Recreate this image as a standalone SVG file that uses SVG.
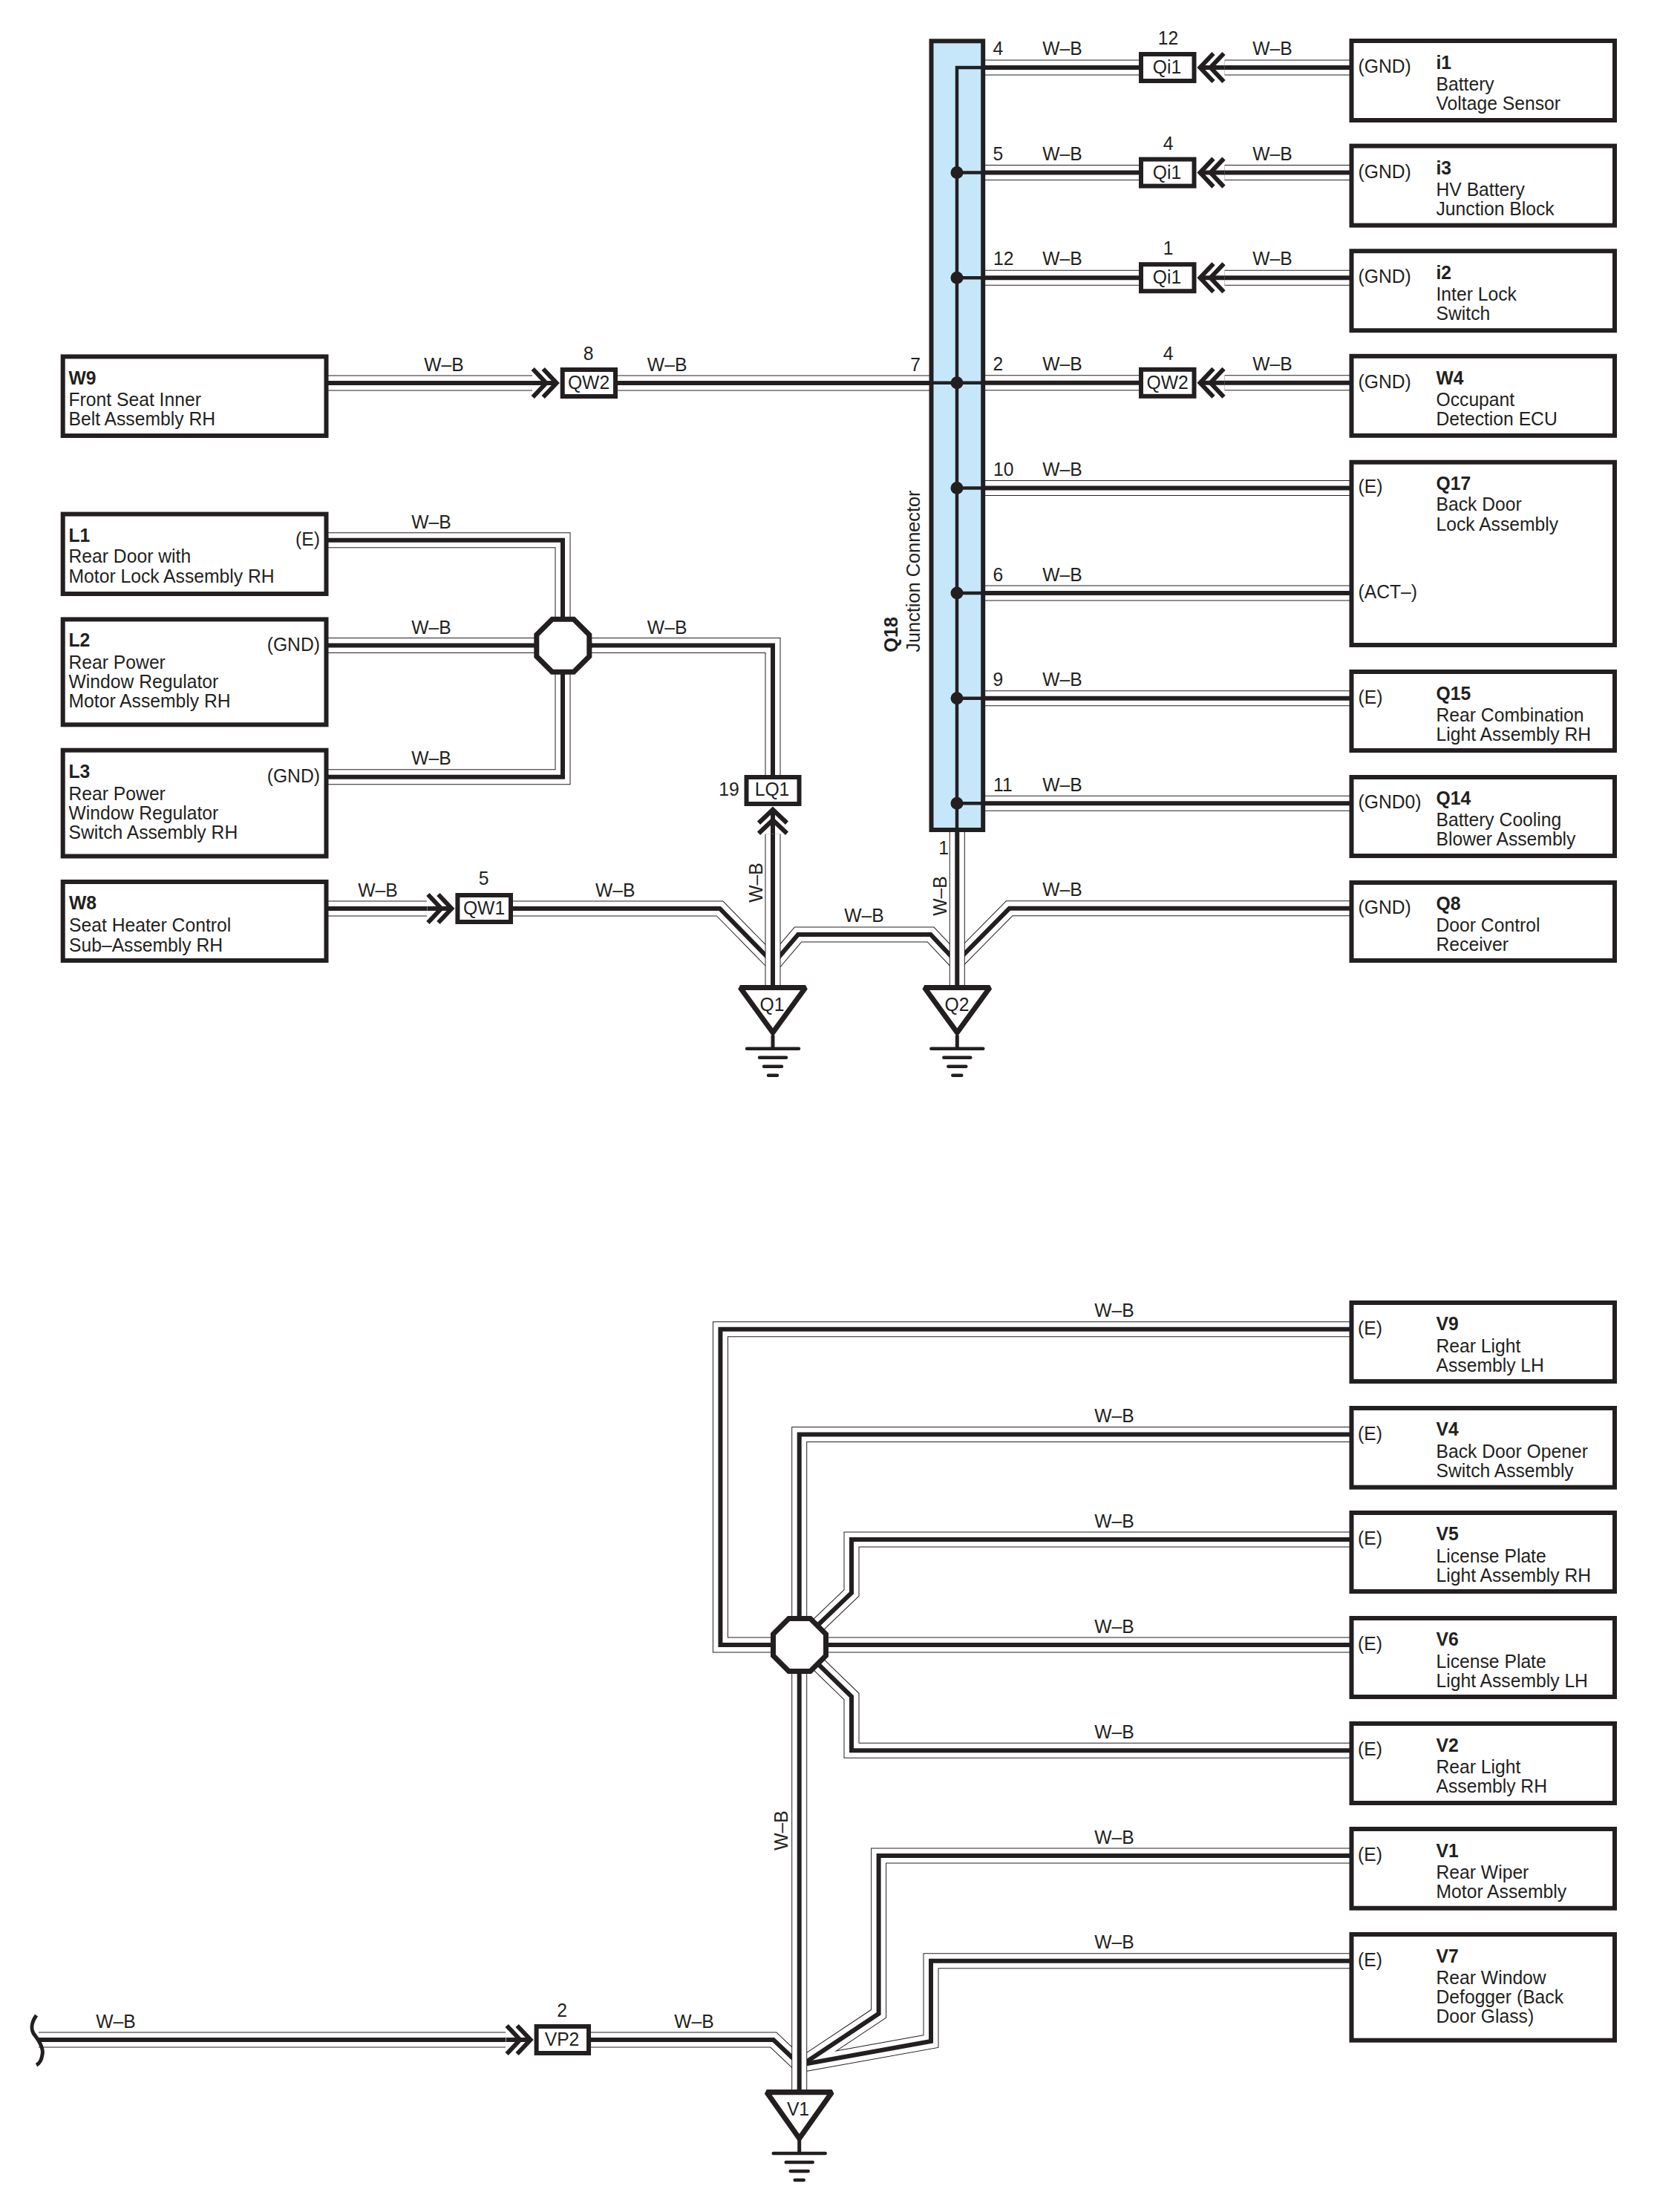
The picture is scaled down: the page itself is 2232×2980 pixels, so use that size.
<svg xmlns="http://www.w3.org/2000/svg" width="2232" height="2980" viewBox="0 0 2232 2980">
<style>
text{font-family:"Liberation Sans",Arial,sans-serif;font-size:26px;fill:#231f20}
.b{font-weight:bold}
.m{text-anchor:middle}
.e{text-anchor:end}
.box{fill:#fff;stroke:#231f20;stroke-width:6}
.cn{fill:#fff;stroke:#231f20;stroke-width:6}
.oct{fill:#fff;stroke:#231f20;stroke-width:7}
.tri{fill:#fff;stroke:#231f20;stroke-width:7;stroke-miterlimit:2}
.k{fill:none;stroke:#231f20;stroke-width:6}
.dot{fill:#231f20}
</style>
<defs>
<g id="wa" fill="none">
<path d="M442,516H717"/>
<path d="M832,516H1252"/>
<path d="M442,727.7H758V870"/>
<path d="M442,1046.8H758V870"/>
<path d="M442,869.6H798"/>
<path d="M758,869.6H1041V1047"/>
<path d="M442,1224H575"/>
<path d="M691,1224H969.6L1041,1297"/>
<path d="M1041,1299L1075,1259H1253.6L1289.3,1297"/>
<path d="M1822,1223.8H1359.6L1289.3,1295"/>
<path d="M1327,91H1537M1649.5,91H1822"/>
<path d="M1327,232.6H1537M1649.5,232.6H1822"/>
<path d="M1327,374.2H1537M1649.5,374.2H1822"/>
<path d="M1327,515.8H1537M1649.5,515.8H1822"/>
<path d="M1327,657.4H1822"/>
<path d="M1327,799H1822"/>
<path d="M1327,940.7H1822"/>
<path d="M1327,1082.2H1822"/>
<path d="M1822,1790.7H970.4V2216H1040"/>
<path d="M1822,2074H1147V2146L1077,2213"/>
<path d="M1077,2216H1822"/>
<path d="M1822,2358.3H1147V2285.5L1077,2217.5"/>
<path d="M1822,2500H1183.6V2712.8L1076.7,2784"/>
<path d="M1822,2641.7H1254V2750L1076.7,2782"/>
<path d="M796,2748H1041.8L1076.7,2781"/>
<path d="M52,2748H681"/>
</g>
<g id="wb" fill="none">
<path d="M1041,1123.7V1328"/>
<path d="M1289.3,1118V1328"/>
<path d="M1822,1932.5H1076.7V2216"/>
<path d="M1076.7,2216V2816"/>
</g>
<g id="chev" fill="none" stroke="#231f20" stroke-width="6">
<path d="M-38,0H-6"/>
<path d="M-23,-19L-5,0L-23,19"/>
<path d="M-37,-19L-19,0L-37,19"/>
</g>
<g id="gnd" fill="none" stroke="#231f20" stroke-linecap="round">
<path d="M0,-18V0" stroke-width="5" stroke-linecap="butt"/>
<path d="M-35,0H35M-18,12H18M-12,24H12M-6,36H6" stroke-width="4.5"/>
</g>
<polygon id="trishape" class="tri" points="-44,3.5 44,3.5 0,64"/>
<polygon id="octshape" class="oct" points="-14.5,-35.5 14.5,-35.5 35.5,-14.5 35.5,14.5 14.5,35.5 -14.5,35.5 -35.5,14.5 -35.5,-14.5"/>
</defs>
<rect width="2232" height="2980" fill="#fff"/>
<g id="connectors">
<use href="#wa" stroke="#231f20" stroke-width="21"/>
<use href="#wa" stroke="#fff" stroke-width="19"/>
<use href="#wa" stroke="#231f20" stroke-width="6"/>
<use href="#wb" stroke="#231f20" stroke-width="21"/>
<use href="#wb" stroke="#fff" stroke-width="19"/>
<use href="#wb" stroke="#231f20" stroke-width="6"/>
<path id="cable-end" d="M49,2715C42,2725 41,2735 47,2742C53,2750 59,2760 57,2768C56,2775 53,2780 49,2782" fill="none" stroke="#231f20" stroke-width="5"/>
<use href="#chev" transform="translate(1611.5,91) rotate(180)"/>
<use href="#chev" transform="translate(1611.5,232.6) rotate(180)"/>
<use href="#chev" transform="translate(1611.5,374.2) rotate(180)"/>
<use href="#chev" transform="translate(1611.5,515.8) rotate(180)"/>
<use href="#chev" transform="translate(754.7,516)"/>
<use href="#chev" transform="translate(613.4,1224)"/>
<use href="#chev" transform="translate(719.6,2748)"/>
<use href="#chev" transform="translate(1041,1085.7) rotate(-90)"/>
</g>
<g id="wire-labels" transform="translate(0,-1)">
<text transform="matrix(.95 0 0 1 1431 75)" class="m">W–B</text>
<text transform="matrix(.95 0 0 1 1714 75)" class="m">W–B</text>
<text transform="matrix(.95 0 0 1 1431 216.6)" class="m">W–B</text>
<text transform="matrix(.95 0 0 1 1714 216.6)" class="m">W–B</text>
<text transform="matrix(.95 0 0 1 1431 358.2)" class="m">W–B</text>
<text transform="matrix(.95 0 0 1 1714 358.2)" class="m">W–B</text>
<text transform="matrix(.95 0 0 1 1431 499.8)" class="m">W–B</text>
<text transform="matrix(.95 0 0 1 1714 499.8)" class="m">W–B</text>
<text transform="matrix(.95 0 0 1 1431 642)" class="m">W–B</text>
<text transform="matrix(.95 0 0 1 1431 783.6)" class="m">W–B</text>
<text transform="matrix(.95 0 0 1 1431 925)" class="m">W–B</text>
<text transform="matrix(.95 0 0 1 1431 1066.6)" class="m">W–B</text>
<text transform="matrix(.95 0 0 1 1431 1208)" class="m">W–B</text>
<text transform="matrix(.95 0 0 1 1337.5 75)">4</text>
<text transform="matrix(.95 0 0 1 1337.5 216.6)">5</text>
<text transform="matrix(.95 0 0 1 1338 358.2)">12</text>
<text transform="matrix(.95 0 0 1 1337.5 499.8)">2</text>
<text transform="matrix(.95 0 0 1 1338 642)">10</text>
<text transform="matrix(.95 0 0 1 1337.5 783.6)">6</text>
<text transform="matrix(.95 0 0 1 1337.5 925)">9</text>
<text transform="matrix(.95 0 0 1 1338 1066.6)">11</text>
<text transform="matrix(.95 0 0 1 1233 500.5)" class="m">7</text>
<text transform="matrix(.95 0 0 1 1271 1151.7)" class="m">1</text>
<text transform="matrix(.95 0 0 1 598 500.5)" class="m">W–B</text>
<text transform="matrix(.95 0 0 1 898.6 500.5)" class="m">W–B</text>
<text transform="matrix(.95 0 0 1 581 712.5)" class="m">W–B</text>
<text transform="matrix(.95 0 0 1 581 854.5)" class="m">W–B</text>
<text transform="matrix(.95 0 0 1 581 1031)" class="m">W–B</text>
<text transform="matrix(.95 0 0 1 898.6 854.5)" class="m">W–B</text>
<text transform="matrix(.95 0 0 1 509 1209)" class="m">W–B</text>
<text transform="matrix(.95 0 0 1 828.7 1209)" class="m">W–B</text>
<text transform="matrix(.95 0 0 1 1164 1243.3)" class="m">W–B</text>
<text transform="matrix(0 -.95 1 0 1026.8 1190)" class="m">W–B</text>
<text transform="matrix(0 -.95 1 0 1275 1208)" class="m">W–B</text>
<text transform="matrix(.95 0 0 1 1501 1775.3)" class="m">W–B</text>
<text transform="matrix(.95 0 0 1 1501 1917)" class="m">W–B</text>
<text transform="matrix(.95 0 0 1 1501 2058.6)" class="m">W–B</text>
<text transform="matrix(.95 0 0 1 1501 2200.6)" class="m">W–B</text>
<text transform="matrix(.95 0 0 1 1501 2343)" class="m">W–B</text>
<text transform="matrix(.95 0 0 1 1501 2484.6)" class="m">W–B</text>
<text transform="matrix(.95 0 0 1 1501 2626.3)" class="m">W–B</text>
<text transform="matrix(0 -.95 1 0 1061.4 2467)" class="m">W–B</text>
<text transform="matrix(.95 0 0 1 156 2733)" class="m">W–B</text>
<text transform="matrix(.95 0 0 1 935 2733)" class="m">W–B</text>
</g>
<g id="Q18">
<rect x="1254.5" y="55.3" width="69.7" height="1062.7" fill="#c6e7fa" stroke="#231f20" stroke-width="6"/>
<path d="M1322,91H1289V1116M1289,232.6H1322M1289,374.2H1322M1256,515.8H1322M1289,657.4H1322M1289,799H1322M1289,940.7H1322M1289,1082.2H1322" fill="none" stroke="#231f20" stroke-width="4.5"/>
<g class="dot">
<circle cx="1289" cy="232.6" r="8.5"/><circle cx="1289" cy="374.2" r="8.5"/><circle cx="1289" cy="515.8" r="8.5"/><circle cx="1289" cy="657.4" r="8.5"/><circle cx="1289" cy="799" r="8.5"/><circle cx="1289" cy="940.7" r="8.5"/><circle cx="1289" cy="1082.2" r="8.5"/>
</g>
<text transform="matrix(0 -.975 1 0 1208.7 878.7)" class="b">Q18</text>
<text transform="matrix(0 -.975 1 0 1238.7 878.7)">Junction Connector</text>
</g>
<g id="i1"><rect class="box" x="1820.5" y="55" width="354.5" height="107"/>
<text transform="matrix(.95 0 0 1 1829.5 98)">(GND)</text><text class="b" transform="matrix(.95 0 0 1 1934.5 93)">i1</text><text transform="matrix(.95 0 0 1 1934.5 122)">Battery</text><text transform="matrix(.95 0 0 1 1934.5 148)">Voltage Sensor</text></g>
<g id="i3"><rect class="box" x="1820.5" y="196.6" width="354.5" height="107"/>
<text transform="matrix(.95 0 0 1 1829.5 239.6)">(GND)</text><text class="b" transform="matrix(.95 0 0 1 1934.5 234.6)">i3</text><text transform="matrix(.95 0 0 1 1934.5 263.6)">HV Battery</text><text transform="matrix(.95 0 0 1 1934.5 289.6)">Junction Block</text></g>
<g id="i2"><rect class="box" x="1820.5" y="338.2" width="354.5" height="107"/>
<text transform="matrix(.95 0 0 1 1829.5 381.2)">(GND)</text><text class="b" transform="matrix(.95 0 0 1 1934.5 376.2)">i2</text><text transform="matrix(.95 0 0 1 1934.5 405.2)">Inter Lock</text><text transform="matrix(.95 0 0 1 1934.5 431.2)">Switch</text></g>
<g id="W4"><rect class="box" x="1820.5" y="479.8" width="354.5" height="107"/>
<text transform="matrix(.95 0 0 1 1829.5 522.8)">(GND)</text><text class="b" transform="matrix(.95 0 0 1 1934.5 517.8)">W4</text><text transform="matrix(.95 0 0 1 1934.5 546.8)">Occupant</text><text transform="matrix(.95 0 0 1 1934.5 572.8)">Detection ECU</text></g>
<g id="Q17"><rect class="box" x="1820.5" y="622.7" width="354.5" height="246.3"/>
<text transform="matrix(.95 0 0 1 1829.5 664.4)">(E)</text><text transform="matrix(.95 0 0 1 1829.5 806)">(ACT–)</text><text class="b" transform="matrix(.95 0 0 1 1934.5 659.7)">Q17</text><text transform="matrix(.95 0 0 1 1934.5 688.4)">Back Door</text><text transform="matrix(.95 0 0 1 1934.5 714.6)">Lock Assembly</text></g>
<g id="Q15"><rect class="box" x="1820.5" y="905" width="354.5" height="106"/>
<text transform="matrix(.95 0 0 1 1829.5 947.7)">(E)</text><text class="b" transform="matrix(.95 0 0 1 1934.5 942.7)">Q15</text><text transform="matrix(.95 0 0 1 1934.5 971.7)">Rear Combination</text><text transform="matrix(.95 0 0 1 1934.5 997.7)">Light Assembly RH</text></g>
<g id="Q14"><rect class="box" x="1820.5" y="1047" width="354.5" height="106"/>
<text transform="matrix(.95 0 0 1 1829.5 1089.2)">(GND0)</text><text class="b" transform="matrix(.95 0 0 1 1934.5 1084.2)">Q14</text><text transform="matrix(.95 0 0 1 1934.5 1113.2)">Battery Cooling</text><text transform="matrix(.95 0 0 1 1934.5 1139.2)">Blower Assembly</text></g>
<g id="Q8"><rect class="box" x="1820.5" y="1189" width="354.5" height="105"/>
<text transform="matrix(.95 0 0 1 1829.5 1230.8)">(GND)</text><text class="b" transform="matrix(.95 0 0 1 1934.5 1225.8)">Q8</text><text transform="matrix(.95 0 0 1 1934.5 1254.8)">Door Control</text><text transform="matrix(.95 0 0 1 1934.5 1280.8)">Receiver</text></g>
<g id="W9"><rect class="box" x="84.7" y="480.4" width="354.8" height="106.6"/>
<text class="b" transform="matrix(.95 0 0 1 92.5 517.5)">W9</text><text transform="matrix(.95 0 0 1 92.5 547)">Front Seat Inner</text><text transform="matrix(.95 0 0 1 92.5 573.4)">Belt Assembly RH</text></g>
<g id="L1"><rect class="box" x="84.7" y="692.6" width="354.8" height="107.4"/>
<text class="b" transform="matrix(.95 0 0 1 92.5 729.5)">L1</text><text transform="matrix(.95 0 0 1 92.5 758.4)">Rear Door with</text><text transform="matrix(.95 0 0 1 92.5 784.6)">Motor Lock Assembly RH</text><text class="e" transform="matrix(.95 0 0 1 431 735)">(E)</text></g>
<g id="L2"><rect class="box" x="84.7" y="834.4" width="354.8" height="141.9"/>
<text class="b" transform="matrix(.95 0 0 1 92.5 871.3)">L2</text><text transform="matrix(.95 0 0 1 92.5 900.8)">Rear Power</text><text transform="matrix(.95 0 0 1 92.5 927)">Window Regulator</text><text transform="matrix(.95 0 0 1 92.5 953.4)">Motor Assembly RH</text><text class="e" transform="matrix(.95 0 0 1 431 877)">(GND)</text></g>
<g id="L3"><rect class="box" x="84.7" y="1010.7" width="354.8" height="142.8"/>
<text class="b" transform="matrix(.95 0 0 1 92.5 1048)">L3</text><text transform="matrix(.95 0 0 1 92.5 1077.6)">Rear Power</text><text transform="matrix(.95 0 0 1 92.5 1104)">Window Regulator</text><text transform="matrix(.95 0 0 1 92.5 1130)">Switch Assembly RH</text><text class="e" transform="matrix(.95 0 0 1 431 1054)">(GND)</text></g>
<g id="W8"><rect class="box" x="84.7" y="1188" width="354.8" height="106"/>
<text class="b" transform="matrix(.95 0 0 1 93 1225)">W8</text><text transform="matrix(.95 0 0 1 93 1255)">Seat Heater Control</text><text transform="matrix(.95 0 0 1 93 1281.7)">Sub–Assembly RH</text></g>
<g id="V9"><rect class="box" x="1820.5" y="1755" width="354.5" height="106"/>
<text transform="matrix(.95 0 0 1 1829 1798)">(E)</text><text class="b" transform="matrix(.95 0 0 1 1934.5 1791.7)">V9</text><text transform="matrix(.95 0 0 1 1934.5 1822)">Rear Light</text><text transform="matrix(.95 0 0 1 1934.5 1848)">Assembly LH</text></g>
<g id="V4"><rect class="box" x="1820.5" y="1897" width="354.5" height="106.7"/>
<text transform="matrix(.95 0 0 1 1829 1939.6)">(E)</text><text class="b" transform="matrix(.95 0 0 1 1934.5 1933.5)">V4</text><text transform="matrix(.95 0 0 1 1934.5 1963.6)">Back Door Opener</text><text transform="matrix(.95 0 0 1 1934.5 1989.6)">Switch Assembly</text></g>
<g id="V5"><rect class="box" x="1820.5" y="2038" width="354.5" height="106"/>
<text transform="matrix(.95 0 0 1 1829 2081)">(E)</text><text class="b" transform="matrix(.95 0 0 1 1934.5 2075)">V5</text><text transform="matrix(.95 0 0 1 1934.5 2105)">License Plate</text><text transform="matrix(.95 0 0 1 1934.5 2131)">Light Assembly RH</text></g>
<g id="V6"><rect class="box" x="1820.5" y="2180" width="354.5" height="106"/>
<text transform="matrix(.95 0 0 1 1829 2223)">(E)</text><text class="b" transform="matrix(.95 0 0 1 1934.5 2217)">V6</text><text transform="matrix(.95 0 0 1 1934.5 2247)">License Plate</text><text transform="matrix(.95 0 0 1 1934.5 2273)">Light Assembly LH</text></g>
<g id="V2"><rect class="box" x="1820.5" y="2322" width="354.5" height="107"/>
<text transform="matrix(.95 0 0 1 1829 2365)">(E)</text><text class="b" transform="matrix(.95 0 0 1 1934.5 2359.5)">V2</text><text transform="matrix(.95 0 0 1 1934.5 2389)">Rear Light</text><text transform="matrix(.95 0 0 1 1934.5 2415)">Assembly RH</text></g>
<g id="V1"><rect class="box" x="1820.5" y="2464" width="354.5" height="106.7"/>
<text transform="matrix(.95 0 0 1 1829 2507)">(E)</text><text class="b" transform="matrix(.95 0 0 1 1934.5 2501.5)">V1</text><text transform="matrix(.95 0 0 1 1934.5 2531)">Rear Wiper</text><text transform="matrix(.95 0 0 1 1934.5 2557)">Motor Assembly</text></g>
<g id="V7"><rect class="box" x="1820.5" y="2606" width="354.5" height="142.7"/>
<text transform="matrix(.95 0 0 1 1829 2648.7)">(E)</text><text class="b" transform="matrix(.95 0 0 1 1934.5 2643.5)">V7</text><text transform="matrix(.95 0 0 1 1934.5 2673)">Rear Window</text><text transform="matrix(.95 0 0 1 1934.5 2699)">Defogger (Back</text><text transform="matrix(.95 0 0 1 1934.5 2725)">Door Glass)</text></g>
<g id="Qi1a"><rect class="cn" x="1537" y="73" width="71.5" height="36"/><text class="m" transform="matrix(.95 0 0 1 1572 99)">Qi1</text><text class="m" transform="matrix(.95 0 0 1 1573.5 60)">12</text></g>
<g id="Qi1b"><rect class="cn" x="1537" y="214.6" width="71.5" height="36"/><text class="m" transform="matrix(.95 0 0 1 1572 240.6)">Qi1</text><text class="m" transform="matrix(.95 0 0 1 1573.5 201.6)">4</text></g>
<g id="Qi1c"><rect class="cn" x="1537" y="356.2" width="71.5" height="36"/><text class="m" transform="matrix(.95 0 0 1 1572 382.2)">Qi1</text><text class="m" transform="matrix(.95 0 0 1 1573.5 343.2)">1</text></g>
<g id="QW2b"><rect class="cn" x="1537" y="497.8" width="71.5" height="36"/><text class="m" transform="matrix(.95 0 0 1 1572.7 523.8)">QW2</text><text class="m" transform="matrix(.95 0 0 1 1573.5 484.8)">4</text></g>
<g id="QW2a"><rect class="cn" x="757.7" y="498" width="71.3" height="36"/><text class="m" transform="matrix(.95 0 0 1 793 524)">QW2</text><text class="m" transform="matrix(.95 0 0 1 792.6 484.5)">8</text></g>
<g id="QW1"><rect class="cn" x="616.4" y="1206" width="71.6" height="36"/><text class="m" transform="matrix(.95 0 0 1 652 1232)">QW1</text><text class="m" transform="matrix(.95 0 0 1 651.6 1192)">5</text></g>
<g id="LQ1"><rect class="cn" x="1005.5" y="1047" width="71" height="36"/><text class="m" transform="matrix(.95 0 0 1 1040 1072)">LQ1</text><text class="m" transform="matrix(.95 0 0 1 982 1072)">19</text></g>
<g id="VP2"><rect class="cn" x="722.6" y="2730" width="70.4" height="36"/><text class="m" transform="matrix(.95 0 0 1 757 2756)">VP2</text><text class="m" transform="matrix(.95 0 0 1 757 2717.3)">2</text></g>
<g id="J1"><use href="#octshape" transform="translate(758.3,869.7)"/></g>
<g id="J2"><use href="#octshape" transform="translate(1077,2216)"/></g>
<g id="Q1"><use href="#trishape" transform="translate(1041,1327)"/><text class="m" transform="matrix(.95 0 0 1 1040 1361.7)">Q1</text><use href="#gnd" transform="translate(1041,1412.7)"/></g>
<g id="Q2"><use href="#trishape" transform="translate(1289.3,1327)"/><text class="m" transform="matrix(.95 0 0 1 1289 1361.7)">Q2</text><use href="#gnd" transform="translate(1289.3,1412.7)"/></g>
<g id="Gnd-V1"><use href="#trishape" transform="translate(1076.7,2815) scale(1,1.03)"/><text class="m" transform="matrix(.95 0 0 1 1075 2850)">V1</text><use href="#gnd" transform="translate(1076.7,2901)"/></g>
</svg>
